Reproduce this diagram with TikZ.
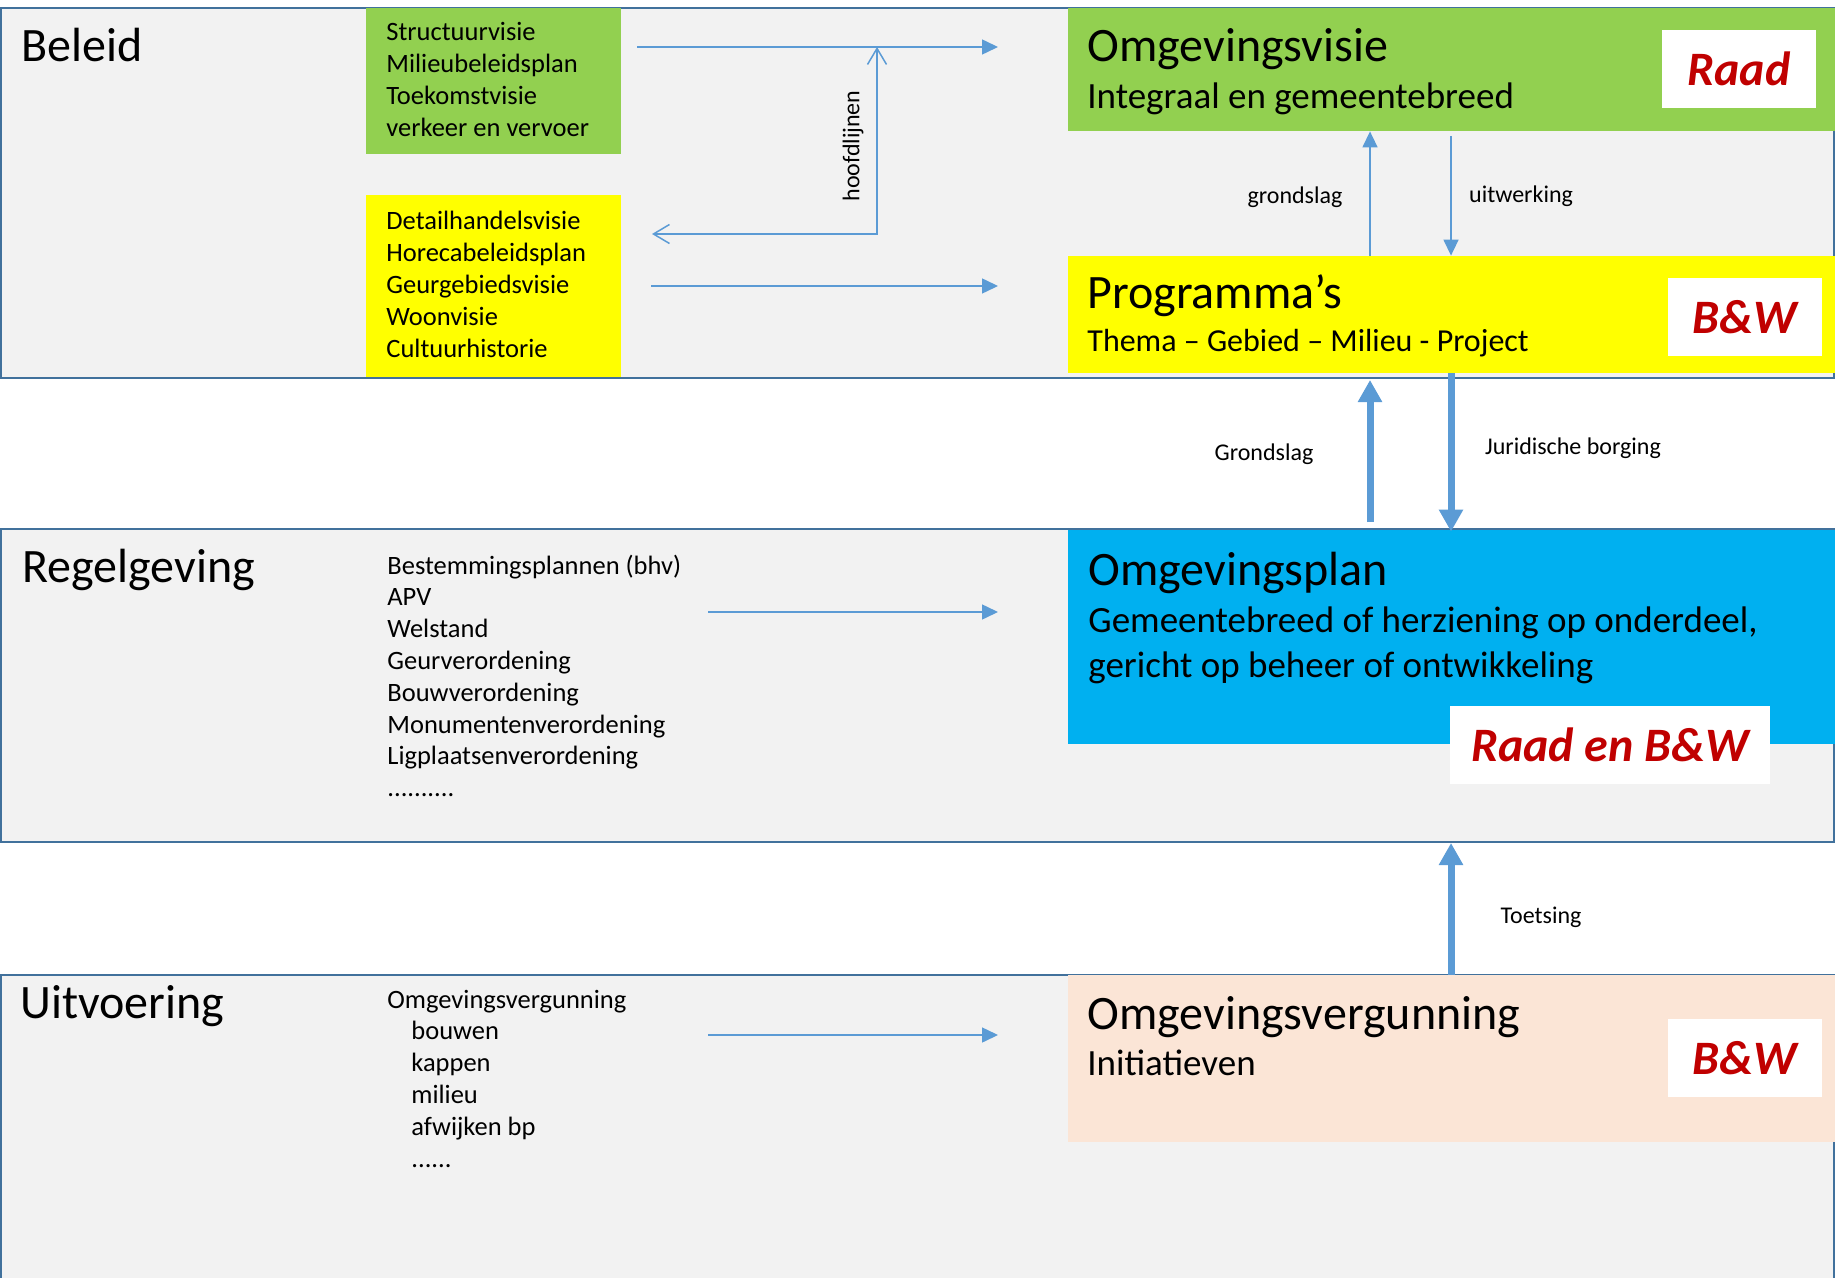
\documentclass[tikz,border=0pt]{standalone}
\usepackage{fontspec}
\setmainfont{Carlito}
\usetikzlibrary{arrows.meta,fit}
\definecolor{bandfill}{HTML}{F2F2F2}
\definecolor{bandline}{HTML}{41719C}
\definecolor{cgreen}{HTML}{92D050}
\definecolor{cyellow}{HTML}{FFFF00}
\definecolor{cblue}{HTML}{00B0F0}
\definecolor{cpeach}{HTML}{FBE5D6}
\definecolor{carrow}{HTML}{5B9BD5}
\definecolor{cred}{HTML}{C00000}
\begin{document}
\begin{tikzpicture}[x=0.5pt,y=-0.5pt,
  band/.style={fill=bandfill,draw=bandline,line width=1pt,inner sep=0pt},
  colbox/.style={inner sep=0pt,draw=none},
  whitebox/.style={fill=white,inner sep=0pt,draw=none},
  redtxt/.style={inner sep=0pt,text=cred,font=\fontsize{24}{29}\selectfont\bfseries\itshape},
  bandlabel/.style={anchor=base west,inner sep=0pt,font=\fontsize{24}{29}\selectfont},
  headtxt/.style={anchor=base west,inner sep=0pt,font=\fontsize{24}{29}\selectfont},
  subtxt/.style={anchor=base west,inner sep=0pt,font=\fontsize{18.5}{23}\selectfont},
  listtxt/.style={anchor=base west,inner sep=0pt,font=\fontsize{13.25}{15.9}\selectfont},
  smalltxt/.style={inner sep=0pt,font=\fontsize{12}{14}\selectfont},
  thinarrow/.style={draw=carrow,line width=0.75pt,-{Triangle[length=8pt,width=7.5pt]}},
  thickarrow/.style={draw=carrow,line width=3.5pt,-{Triangle[length=11pt,width=11.5pt]}},
  openarrow/.style={draw=carrow,line width=0.75pt,{Straight Barb[length=8pt,width=9.5pt]}-{Straight Barb[length=8pt,width=9.5pt]}}
]
\useasboundingbox (0,0) rectangle (1835,1278);

% bands
\node[band,fit={(1,8) (1834,378)}] (beleid) {};
\node[band,fit={(1,529) (1834,842)}] (regel) {};
\node[band,fit={(1,975) (1834,1300)}] (uitv) {};

\node[bandlabel] (lbeleid) at (21,62) {Beleid};
\node[bandlabel] (lregel) at (22,582) {Regelgeving};
\node[bandlabel] (luitv) at (20,1018) {Uitvoering};

% left boxes
\node[colbox,fill=cgreen,fit={(366,8) (621,154)}] (gbox) {};
\node[colbox,fill=cyellow,fit={(366,195) (621,377)}] (ybox) {};
\node[listtxt] (glist) at (386,41) {\begin{tabular}[t]{@{}l@{}}Structuurvisie\\ Milieubeleidsplan\\ Toekomstvisie\\ verkeer en vervoer\end{tabular}};
\node[listtxt] (ylist) at (386,230) {\begin{tabular}[t]{@{}l@{}}Detailhandelsvisie\\ Horecabeleidsplan\\ Geurgebiedsvisie\\ Woonvisie\\ Cultuurhistorie\end{tabular}};
\node[listtxt] (rlist) at (387,574) {\begin{tabular}[t]{@{}l@{}}Bestemmingsplannen (bhv)\\ APV\\ Welstand\\ Geurverordening\\ Bouwverordening\\ Monumentenverordening\\ Ligplaatsenverordening\\ ..........\end{tabular}};
\node[listtxt] (ulist) at (387,1008) {\begin{tabular}[t]{@{}l@{}}Omgevingsvergunning\\ \hspace*{12pt}bouwen\\ \hspace*{12pt}kappen\\ \hspace*{12pt}milieu\\ \hspace*{12pt}afwijken bp\\ \hspace*{12pt}......\end{tabular}};

% right boxes
\node[colbox,fill=cgreen,fit={(1068,8) (1835,131)}] (visie) {};
\node[colbox,fill=cyellow,fit={(1068,256) (1835,373)}] (prog) {};
\node[colbox,fill=cblue,fit={(1068,530) (1835,744)}] (plan) {};
\node[colbox,fill=cpeach,fit={(1068,975) (1835,1142)}] (verg) {};

\node[headtxt] (tvisie) at (1087,62) {Omgevingsvisie};
\node[subtxt] (svisie) at (1087,109) {Integraal en gemeentebreed};
\node[headtxt] (tprog) at (1087,309) {Programma’s};
\node[anchor=base west,inner sep=0pt,font=\fontsize{16}{20}\selectfont] (sprog) at (1087,352) {Thema – Gebied – Milieu - Project};
\node[headtxt] (tplan) at (1088,585) {Omgevingsplan};
\node[subtxt] (splan1) at (1088,632) {Gemeentebreed of herziening op onderdeel,};
\node[subtxt] (splan2) at (1088,677) {gericht op beheer of ontwikkeling};
\node[headtxt] (tverg) at (1087,1029) {Omgevingsvergunning};
\node[subtxt] (sverg) at (1087,1075) {Initiatieven};

% white labels
\node[whitebox,fit={(1662,30) (1816,108)}] (wraad) {};
\node[whitebox,fit={(1668,278) (1822,356)}] (wbw1) {};
\node[whitebox,fit={(1450,706) (1770,784)}] (wraadbw) {};
\node[whitebox,fit={(1668,1019) (1822,1097)}] (wbw2) {};
\node[redtxt] (traad) at (wraad.center) {Raad};
\node[redtxt] (tbw1) at (wbw1.center) {B\&W};
\node[redtxt] (traadbw) at (wraadbw.center) {Raad en B\&W};
\node[redtxt] (tbw2) at (wbw2.center) {B\&W};

% free ends
\coordinate (a1s) at (637,47);
\coordinate (a1e) at (998,47);
\coordinate (a2s) at (651,286);
\coordinate (a2e) at (998,286);
\coordinate (hltop) at (877,47);
\coordinate (hlleft) at (652,234);
\coordinate (a3s) at (708,612);
\coordinate (a3e) at (998,612);
\coordinate (a4s) at (708,1035);
\coordinate (a4e) at (998,1035);
\coordinate (gx) at (1370,0);
\coordinate (ux) at (1451,0);
\coordinate (ueb) at (1451,136);
\coordinate (tgs) at (1370,522);
\coordinate (tgt) at (1370,380);

% arrows
\draw[thinarrow] (a1s) -- (a1e);
\draw[thinarrow] (a2s) -- (a2e);
\draw[openarrow] (hltop) |- (hlleft);
\draw[thinarrow] (a3s) -- (a3e);
\draw[thinarrow] (a4s) -- (a4e);
\draw[thinarrow] (prog.north -| gx) -- (visie.south -| gx);
\draw[thinarrow] (ueb) -- (prog.north -| ux);
\draw[thickarrow] (tgs) -- (tgt);
\draw[thickarrow] (prog.south -| ux) -- ([yshift=-1pt]plan.north -| ux);
\draw[thickarrow] (verg.north -| ux) -- (regel.south -| ux);

% labels
\node[smalltxt,rotate=90] (lhoofd) at (853,146) {hoofdlijnen};
\node[smalltxt] (lgr1) at (1295,197) {grondslag};
\node[smalltxt] (luitw) at (1521,196) {uitwerking};
\node[smalltxt] (lgr2) at (1264,454) {Grondslag};
\node[smalltxt] (ljur) at (1573,448) {Juridische borging};
\node[smalltxt] (ltoets) at (1541,917) {Toetsing};
\end{tikzpicture}
\end{document}
